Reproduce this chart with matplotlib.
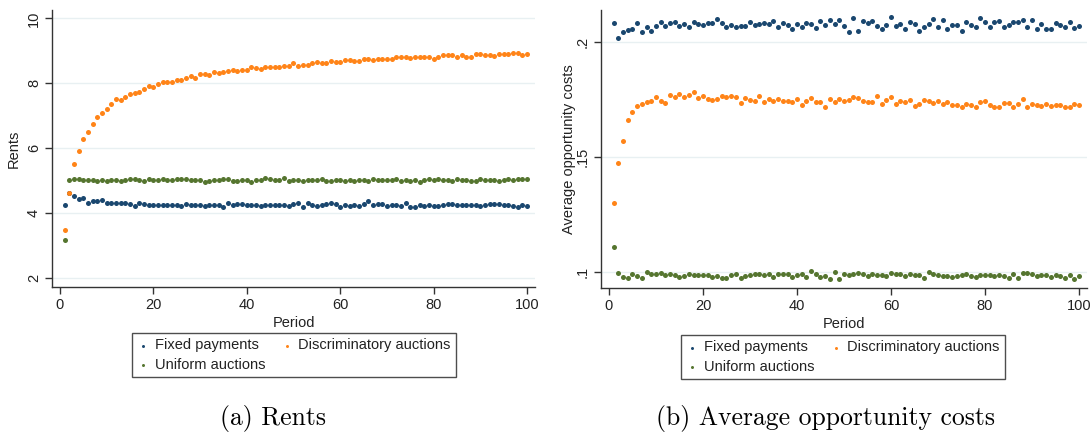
import numpy as np
import matplotlib
matplotlib.use('Agg')
import matplotlib.pyplot as plt

# Data (periods 1..100)

periods = np.arange(1, 101)

rents_fixed = [
    4.26, 4.62, 4.54, 4.44, 4.48, 4.33, 4.39, 4.39, 4.42, 4.33,
    4.33, 4.33, 4.33, 4.33, 4.30, 4.23, 4.31, 4.29, 4.26, 4.26,
    4.26, 4.26, 4.26, 4.26, 4.26, 4.23, 4.29, 4.26, 4.26, 4.26,
    4.23, 4.26, 4.26, 4.26, 4.18, 4.33, 4.26, 4.29, 4.29, 4.26,
    4.26, 4.26, 4.23, 4.26, 4.26, 4.26, 4.26, 4.26, 4.23, 4.29,
    4.33, 4.18, 4.31, 4.26, 4.23, 4.26, 4.29, 4.31, 4.29, 4.18,
    4.26, 4.23, 4.26, 4.23, 4.29, 4.37, 4.26, 4.29, 4.29, 4.23,
    4.26, 4.26, 4.23, 4.33, 4.18, 4.18, 4.26, 4.23, 4.26, 4.23,
    4.23, 4.26, 4.29, 4.29, 4.26, 4.26, 4.26, 4.26, 4.26, 4.23,
    4.26, 4.29, 4.29, 4.29, 4.26, 4.26, 4.23, 4.18, 4.26, 4.23]

rents_discr = [
    3.49, 4.64, 5.51, 5.92, 6.29, 6.51, 6.76, 6.97, 7.08, 7.20,
    7.38, 7.52, 7.49, 7.59, 7.67, 7.69, 7.72, 7.82, 7.92, 7.88,
    7.98, 8.04, 8.04, 8.04, 8.10, 8.10, 8.16, 8.23, 8.18, 8.29,
    8.29, 8.26, 8.35, 8.33, 8.35, 8.39, 8.41, 8.39, 8.41, 8.41,
    8.51, 8.48, 8.45, 8.50, 8.51, 8.51, 8.50, 8.53, 8.54, 8.64,
    8.54, 8.57, 8.58, 8.62, 8.65, 8.62, 8.62, 8.68, 8.66, 8.65,
    8.71, 8.71, 8.70, 8.70, 8.76, 8.74, 8.71, 8.75, 8.76, 8.76,
    8.74, 8.80, 8.80, 8.82, 8.79, 8.82, 8.82, 8.82, 8.82, 8.75,
    8.82, 8.86, 8.86, 8.86, 8.80, 8.86, 8.82, 8.82, 8.89, 8.89,
    8.87, 8.87, 8.85, 8.92, 8.89, 8.89, 8.95, 8.95, 8.86, 8.89]

rents_uniform = [
    3.17, 5.02, 5.05, 5.05, 5.02, 5.02, 5.02, 4.98, 5.02, 4.98,
    5.02, 5.02, 4.98, 5.02, 5.05, 5.05, 5.02, 4.98, 5.05, 5.02,
    5.02, 5.05, 5.02, 5.02, 5.05, 5.05, 5.05, 5.02, 5.02, 5.02,
    4.95, 4.98, 5.02, 5.02, 5.05, 5.05, 4.98, 4.98, 5.02, 5.02,
    4.95, 5.02, 5.02, 5.08, 5.05, 5.02, 5.02, 5.08, 4.98, 5.02,
    5.02, 4.98, 5.02, 5.02, 5.02, 5.05, 4.98, 4.98, 5.02, 5.02,
    4.98, 5.02, 4.98, 5.02, 5.02, 4.98, 5.05, 5.02, 5.02, 5.02,
    5.02, 5.05, 4.98, 5.02, 4.98, 5.02, 4.95, 5.02, 5.05, 5.02,
    5.05, 5.02, 5.02, 4.98, 5.05, 5.02, 5.02, 4.98, 4.98, 5.05,
    5.02, 5.02, 5.02, 4.98, 5.02, 5.05, 5.02, 5.05, 5.05, 5.05]

cost_fixed = [
    0.2084, 0.2020, 0.2044, 0.2054, 0.2057, 0.2083, 0.2047, 0.2065, 0.2051, 0.2071,
    0.2087, 0.2071, 0.2084, 0.2089, 0.2071, 0.2080, 0.2065, 0.2089, 0.2080, 0.2076,
    0.2084, 0.2084, 0.2102, 0.2086, 0.2065, 0.2077, 0.2068, 0.2071, 0.2071, 0.2089,
    0.2076, 0.2080, 0.2084, 0.2080, 0.2093, 0.2065, 0.2083, 0.2077, 0.2057, 0.2080,
    0.2065, 0.2084, 0.2080, 0.2061, 0.2093, 0.2076, 0.2097, 0.2078, 0.2096, 0.2071,
    0.2044, 0.2105, 0.2048, 0.2092, 0.2086, 0.2094, 0.2071, 0.2057, 0.2076, 0.2110,
    0.2071, 0.2080, 0.2057, 0.2089, 0.2080, 0.2051, 0.2065, 0.2080, 0.2102, 0.2065,
    0.2096, 0.2060, 0.2076, 0.2076, 0.2048, 0.2089, 0.2076, 0.2065, 0.2106, 0.2089,
    0.2065, 0.2089, 0.2093, 0.2065, 0.2076, 0.2089, 0.2089, 0.2097, 0.2065, 0.2097,
    0.2057, 0.2080, 0.2057, 0.2057, 0.2083, 0.2076, 0.2065, 0.2089, 0.2061, 0.2071]

cost_discr = [
    0.1298, 0.1472, 0.1571, 0.1661, 0.1695, 0.1722, 0.1731, 0.1741, 0.1744, 0.1763,
    0.1744, 0.1734, 0.1772, 0.1763, 0.1775, 0.1763, 0.1772, 0.1785, 0.1759, 0.1766,
    0.1753, 0.1750, 0.1753, 0.1766, 0.1763, 0.1766, 0.1763, 0.1737, 0.1759, 0.1749,
    0.1744, 0.1766, 0.1741, 0.1753, 0.1744, 0.1753, 0.1743, 0.1746, 0.1741, 0.1753,
    0.1727, 0.1746, 0.1759, 0.1738, 0.1738, 0.1719, 0.1753, 0.1738, 0.1753, 0.1746,
    0.1750, 0.1763, 0.1759, 0.1746, 0.1741, 0.1738, 0.1767, 0.1731, 0.1750, 0.1763,
    0.1731, 0.1746, 0.1738, 0.1750, 0.1721, 0.1731, 0.1750, 0.1746, 0.1735, 0.1746,
    0.1731, 0.1741, 0.1727, 0.1727, 0.1717, 0.1731, 0.1727, 0.1717, 0.1738, 0.1746,
    0.1727, 0.1717, 0.1717, 0.1735, 0.1735, 0.1719, 0.1731, 0.1753, 0.1719, 0.1731,
    0.1727, 0.1721, 0.1731, 0.1721, 0.1727, 0.1727, 0.1717, 0.1717, 0.1731, 0.1727]

cost_uniform = [
    0.1109, 0.0996, 0.0978, 0.0971, 0.0990, 0.0981, 0.0971, 0.1000, 0.0990, 0.0990,
    0.0996, 0.0985, 0.0990, 0.0985, 0.0978, 0.0981, 0.0990, 0.0985, 0.0985, 0.0985,
    0.0985, 0.0978, 0.0981, 0.0971, 0.0971, 0.0985, 0.0990, 0.0971, 0.0981, 0.0985,
    0.0990, 0.0990, 0.0985, 0.0990, 0.0978, 0.0990, 0.0990, 0.0990, 0.0978, 0.0985,
    0.0990, 0.0978, 0.1004, 0.0990, 0.0978, 0.0981, 0.0967, 0.1000, 0.0967, 0.0990,
    0.0985, 0.0990, 0.0993, 0.0990, 0.0981, 0.0990, 0.0985, 0.0985, 0.0981, 0.0996,
    0.0990, 0.0990, 0.0981, 0.0990, 0.0985, 0.0985, 0.0971, 0.1000, 0.0990, 0.0985,
    0.0981, 0.0981, 0.0978, 0.0981, 0.0985, 0.0990, 0.0981, 0.0975, 0.0985, 0.0985,
    0.0985, 0.0981, 0.0985, 0.0981, 0.0971, 0.0990, 0.0971, 0.0996, 0.0996, 0.0990,
    0.0981, 0.0985, 0.0985, 0.0975, 0.0985, 0.0981, 0.0971, 0.0985, 0.0967, 0.0981]

labels = ['Fixed payments', 'Uniform auctions', 'Discriminatory auctions']
rents_ticks = [2, 4, 6, 8, 10]
rents_ticklabels = ['2', '4', '6', '8', '10']
cost_ticks = [0.1, 0.15, 0.2]
cost_ticklabels = ['.1', '.15', '.2']
x_ticks = [0, 20, 40, 60, 80, 100]

BLUE = '#1a476f'
ORANGE = '#ff8418'
GREEN = '#55752f'
GRID = '#e8f0f2'

plt.rcParams['font.family'] = ['Liberation Sans', 'DejaVu Sans']
plt.rcParams['font.size'] = 10

W, H = 1092, 436
fig = plt.figure(figsize=(W / 100, H / 100), dpi=100)


def make_panel(rect, series, yticks, yticklabels, ylim, ylabel, ylabel_x,
               legend_center):
    ax = fig.add_axes([rect[0] / W, 1 - rect[3] / H,
                       (rect[2] - rect[0]) / W, (rect[3] - rect[1]) / H])
    handles = []
    for y, c, lab in zip(series, [BLUE, GREEN, ORANGE], labels):
        h = ax.scatter(periods, y, s=13, color=c, linewidths=0, label=lab,
                       zorder=3)
        handles.append(h)
    ax.set_xlim(-1.7, 101.7)
    ax.set_ylim(*ylim)
    ax.set_xticks(x_ticks)
    ax.set_yticks(yticks)
    ax.set_yticklabels(yticklabels, rotation=90, va='center')
    ax.grid(axis='y', color=GRID, linewidth=1.0, zorder=0)
    ax.set_axisbelow(True)
    for s in ['top', 'right']:
        ax.spines[s].set_visible(False)
    for s in ['left', 'bottom']:
        ax.spines[s].set_color('#333333')
        ax.spines[s].set_linewidth(1.0)
    ax.tick_params(length=5, width=1.0, color='#333333', labelsize=10.5,
                   labelcolor='#222222', pad=3)
    ax.set_xlabel('Period', fontsize=10.5, color='#222222')
    ax.xaxis.set_label_coords(0.5, -0.105)
    ax.set_ylabel(ylabel, fontsize=10.5, color='#222222')
    ax.yaxis.set_label_coords(ylabel_x, 0.5)
    leg = ax.legend(handles=handles, loc='center', ncol=2,
                    bbox_to_anchor=(legend_center[0] / W, 1 - legend_center[1] / H),
                    bbox_transform=fig.transFigure, frameon=True, fancybox=False,
                    edgecolor='#222222', fontsize=10.5, markerscale=0.6,
                    handletextpad=0.4, columnspacing=1.05, labelspacing=0.35,
                    borderpad=0.35, borderaxespad=0, handlelength=0.8)
    leg.get_frame().set_linewidth(1.0)
    for t in leg.get_texts():
        t.set_color('#222222')
    return ax


make_panel((52, 10, 535, 287), [rents_fixed, rents_uniform, rents_discr],
           rents_ticks, rents_ticklabels, (1.73, 10.26), 'Rents', -0.064,
           (294, 355))
make_panel((601, 10, 1087, 288), [cost_fixed, cost_uniform, cost_discr],
           cost_ticks, cost_ticklabels, (0.0929, 0.2141),
           'Average opportunity costs', -0.052, (843, 357))

fig.text(273 / W, 1 - 418 / H, '(a) Rents', ha='center', va='center',
         family='cmr10', fontsize=18.5)
fig.text(825 / W, 1 - 418 / H, '(b) Average opportunity costs', ha='center',
         va='center', family='cmr10', fontsize=18.5)

fig.savefig('out.png', dpi=100, facecolor='white')
